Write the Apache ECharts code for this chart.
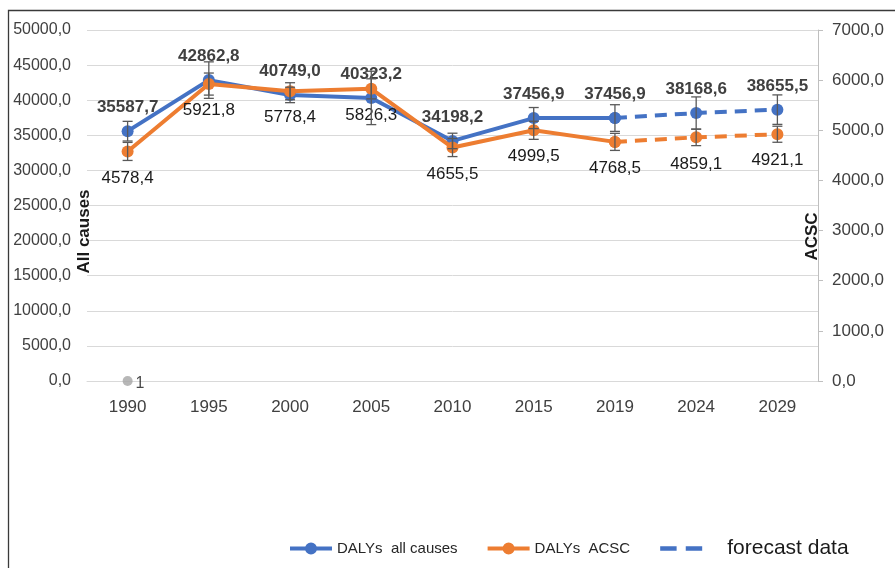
<!DOCTYPE html>
<html>
<head>
<meta charset="utf-8">
<script src="https://cdn.jsdelivr.net/npm/echarts@6/dist/echarts.min.js"></script>
<style>
  html, body { margin: 0; padding: 0; background: #fff; }
  #chart { width: 895px; height: 568px; }
</style>
</head>
<body>
<div id="chart"></div>
<script>
// data
var years = ['1990', '1995', '2000', '2005', '2010', '2015', '2019', '2024', '2029'];
var allCauses = [35587.7, 42862.8, 40749.0, 40323.2, 34198.2, 37456.9, 37456.9, 38168.6, 38655.5];
var allCausesErr = [1400, 2600, 1100, 3800, 1100, 1500, 1900, 2300, 2100];
var acsc = [4578.4, 5921.8, 5778.4, 5826.3, 4655.5, 4999.5, 4768.5, 4859.1, 4921.1];
var acscErr = [180, 220, 170, 200, 180, 180, 170, 165, 160];
var forecastFrom = 6; // index of 2019, where dashed part starts
var strayValues = [0, null, null, null, null, null, null, null, null];
var strayLabel = '1';

var blue = '#4472C4';
var orange = '#ED7D31';
var font = 'Liberation Sans, Arial, sans-serif';

function fmt(v) {
    return v.toFixed(1).replace('.', ',');
}

var observed = function (arr) {
    return arr.map(function (v, i) { return i <= forecastFrom ? v : null; });
};
var forecast = function (arr) {
    return arr.map(function (v, i) { return i >= forecastFrom ? v : null; });
};

function errorBars(values, errors, yAxisIndex) {
    return {
        type: 'custom',
        yAxisIndex: yAxisIndex,
        z: 6,
        silent: true,
        encode: { x: 0, y: [1, 2] },
        data: values.map(function (v, i) { return [i, v - errors[i], v + errors[i]]; }),
        renderItem: function (params, api) {
            var lo = api.coord([api.value(0), api.value(1)]);
            var hi = api.coord([api.value(0), api.value(2)]);
            var w = 5;
            var st = { stroke: '#595959', lineWidth: 1.3 };
            return {
                type: 'group',
                children: [
                    { type: 'line', shape: { x1: lo[0], y1: lo[1], x2: hi[0], y2: hi[1] }, style: st },
                    { type: 'line', shape: { x1: lo[0] - w, y1: lo[1], x2: lo[0] + w, y2: lo[1] }, style: st },
                    { type: 'line', shape: { x1: hi[0] - w, y1: hi[1], x2: hi[0] + w, y2: hi[1] }, style: st }
                ]
            };
        }
    };
}

var blueLabel = {
    show: true, position: 'top', distance: 9,
    fontFamily: font, fontSize: 17, fontWeight: 'bold', color: '#404040',
    formatter: function (p) { return p.value == null ? '' : fmt(p.value); }
};
var orangeLabel = {
    show: true, position: 'bottom', distance: 12,
    fontFamily: font, fontSize: 17, color: '#1a1a1a',
    formatter: function (p) { return p.value == null ? '' : fmt(p.value); }
};
// the forecast halves share the 2019 point, so skip its label there
var skipFirst = function (base) {
    return Object.assign({}, base, {
        formatter: function (p) {
            return (p.value == null || p.dataIndex === forecastFrom) ? '' : fmt(p.value);
        }
    });
};

// legend icons: thick line + dot, and two dashes (tiny corner ticks keep the box 42x14)
var frame = 'M0,0 L0.01,0 L0,0.01 Z M42,14 L41.99,14 L42,13.99 Z ';
var lineDotIcon = 'path://' + frame + 'M0,5 H42 V9 H0 Z M15,7 A6,6 0 1,1 27,7 A6,6 0 1,1 15,7 Z';
var dashIcon = 'path://' + frame + 'M0,4.5 H18 V9.5 H0 Z M28,4.5 H46 V9.5 H28 Z';

// names sit a bit below the axis middle, as in the source
var axisNameStyle = { fontFamily: font, fontSize: 17, fontWeight: 'bold', color: '#1a1a1a' };

var chart = echarts.init(document.getElementById('chart'));
chart.setOption({
    animation: false,
    textStyle: { fontFamily: font },
    graphic: [{
        type: 'rect',
        shape: { x: 8.5, y: 10.5, width: 1000, height: 1000 },
        style: { fill: 'none', stroke: '#3a3a3a', lineWidth: 1.3 },
        z: -1
    }],
    grid: { left: 87, right: 77, top: 30, bottom: 187, outerBoundsMode: 'none', containLabel: false },
    legend: {
        left: 285, top: 533,
        itemWidth: 42, itemHeight: 14, itemGap: 30,
        textStyle: { fontFamily: font, fontSize: 15, color: '#262626' },
        data: [
            { name: 'DALYs  all causes', icon: lineDotIcon },
            { name: 'DALYs  ACSC', icon: lineDotIcon },
            {
                name: 'forecast data', icon: dashIcon,
                textStyle: { fontSize: 21, color: '#1a1a1a', padding: [0, 0, 0, 20] }
            }
        ]
    },
    xAxis: {
        type: 'category',
        data: years,
        axisLine: { lineStyle: { color: '#d9d9d9', width: 1 } },
        axisTick: { show: false },
        axisLabel: { fontFamily: font, fontSize: 17, color: '#404040', margin: 18 }
    },
    yAxis: [{
        type: 'value', min: 0, max: 50000, interval: 5000,
        name: 'All causes', nameLocation: 'middle', nameRotate: 90, nameGap: -6,
        nameMoveOverlap: false,
        nameTextStyle: Object.assign({ padding: [0, 52, 0, 0] }, axisNameStyle),
        axisLine: { show: false }, axisTick: { show: false },
        splitLine: { lineStyle: { color: '#d9d9d9', width: 1 } },
        axisLabel: { fontFamily: font, fontSize: 16, color: '#404040', margin: 16, formatter: fmt }
    }, {
        type: 'value', min: 0, max: 7000, interval: 1000, position: 'right',
        name: 'ACSC', nameLocation: 'middle', nameRotate: 90, nameGap: -14,
        nameMoveOverlap: false,
        nameTextStyle: Object.assign({ padding: [0, 62, 0, 0] }, axisNameStyle),
        axisLine: { show: true, lineStyle: { color: '#bfbfbf', width: 1 } },
        axisTick: { show: true, length: 5, lineStyle: { color: '#bfbfbf' } },
        splitLine: { show: false },
        axisLabel: { fontFamily: font, fontSize: 17, color: '#404040', margin: 14, formatter: fmt }
    }],
    series: [
        {
            name: 'DALYs  all causes', type: 'line', yAxisIndex: 0, z: 3,
            data: observed(allCauses),
            color: blue, symbol: 'circle', symbolSize: 12,
            lineStyle: { width: 4, color: blue },
            label: blueLabel
        },
        {
            name: 'DALYs  all causes', type: 'line', yAxisIndex: 0, z: 3,
            data: forecast(allCauses),
            color: blue, symbol: 'circle', symbolSize: 12,
            lineStyle: { width: 4, color: blue, type: [12, 8] },
            label: skipFirst(blueLabel)
        },
        {
            name: 'DALYs  ACSC', type: 'line', yAxisIndex: 1, z: 4,
            data: observed(acsc),
            color: orange, symbol: 'circle', symbolSize: 12,
            lineStyle: { width: 4, color: orange },
            label: orangeLabel
        },
        {
            name: 'DALYs  ACSC', type: 'line', yAxisIndex: 1, z: 4,
            data: forecast(acsc),
            color: orange, symbol: 'circle', symbolSize: 12,
            lineStyle: { width: 4, color: orange, type: [12, 8] },
            label: skipFirst(orangeLabel)
        },
        {
            name: 'forecast data', type: 'line', data: [],
            color: blue, symbol: 'none',
            lineStyle: { width: 5, color: blue, type: [16, 10] }
        },
        errorBars(allCauses, allCausesErr, 0),
        errorBars(acsc, acscErr, 1),
        {
            name: 'stray', type: 'scatter', yAxisIndex: 0, z: 2,
            data: strayValues, symbolSize: 10, color: '#a5a5a5',
            label: {
                show: true, position: 'right', distance: 3, offset: [0, 3],
                fontFamily: font, fontSize: 16, color: '#1a1a1a',
                formatter: function () { return strayLabel; }
            }
        }
    ]
});
</script>
</body>
</html>
